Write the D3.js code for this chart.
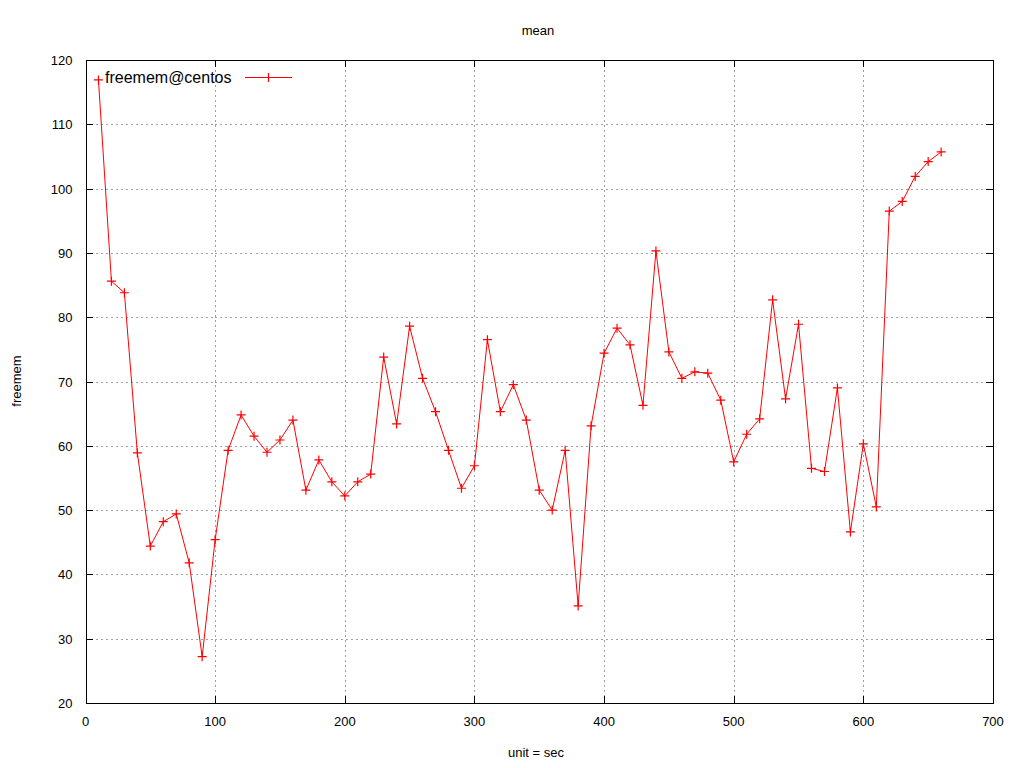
<!DOCTYPE html>
<html>
<head>
<meta charset="utf-8">
<script src="https://cdn.jsdelivr.net/npm/d3@7"></script>
<style>
  body { margin: 0; background: #fff; }
  svg { display: block; font-family: "Liberation Sans", Arial, sans-serif; }
</style>
</head>
<body>
<div id="chart"></div>
<script>
// sampled every 10 s
const times = [10, 20, 30, 40, 50, 60, 70, 80, 90, 100,
  110, 120, 130, 140, 150, 160, 170, 180, 190, 200,
  210, 220, 230, 240, 250, 260, 270, 280, 290, 300,
  310, 320, 330, 340, 350, 360, 370, 380, 390, 400,
  410, 420, 430, 440, 450, 460, 470, 480, 490, 500,
  510, 520, 530, 540, 550, 560, 570, 580, 590, 600,
  610, 620, 630, 640, 650, 660];
const freemem = [116.9, 85.6, 83.8, 58.9, 44.4, 48.2, 49.4, 41.8, 27.2, 45.4,
  59.3, 64.8, 61.5, 59.0, 60.9, 64.0, 53.1, 57.8, 54.4, 52.2,
  54.4, 55.6, 73.8, 63.4, 78.6, 70.5, 65.3, 59.3, 53.4, 56.9,
  76.5, 65.3, 69.5, 64.0, 53.1, 50.0, 59.3, 35.1, 63.1, 74.4,
  78.3, 75.7, 66.3, 90.3, 74.6, 70.5, 71.5, 71.3, 67.1, 57.5,
  61.8, 64.2, 82.7, 67.3, 78.9, 56.5, 56.0, 69.0, 46.6, 60.3,
  50.5, 96.5, 98.0, 101.9, 104.2, 105.7];
const xTicks = [0, 100, 200, 300, 400, 500, 600, 700];
const yTicks = [20, 30, 40, 50, 60, 70, 80, 90, 100, 110, 120];

const width = 1024, height = 768;
const margin = {top: 60, right: 31, bottom: 65, left: 85.5};

const svg = d3.select("#chart").append("svg")
  .attr("width", width)
  .attr("height", height);

const x = d3.scaleLinear().domain([0, 700]).range([margin.left, width - margin.right]);
const y = d3.scaleLinear().domain([20, 120]).range([height - margin.bottom, margin.top]);

const x0 = x.range()[0], x1 = x.range()[1];
const y0 = y.range()[0], y1 = y.range()[1];

// grid
const grid = svg.append("g").attr("stroke", "#a0a0a0").attr("stroke-dasharray", "2,3").attr("shape-rendering", "crispEdges");
grid.selectAll(".gx").data(xTicks.slice(1, -1)).join("line")
  .attr("x1", d => Math.round(x(d)) + 0.5).attr("x2", d => Math.round(x(d)) + 0.5)
  .attr("y1", y1).attr("y2", y0);
grid.selectAll(".gy").data(yTicks.slice(1, -1)).join("line")
  .attr("x1", x0).attr("x2", x1)
  .attr("y1", d => Math.round(y(d)) + 0.5).attr("y2", d => Math.round(y(d)) + 0.5);

// ticks (inward, mirrored)
const tl = 7;
const ticks = svg.append("g").attr("stroke", "#000").attr("shape-rendering", "crispEdges");
xTicks.forEach(d => {
  const px = Math.round(x(d)) + 0.5;
  ticks.append("line").attr("x1", px).attr("x2", px).attr("y1", y0).attr("y2", y0 - tl);
  ticks.append("line").attr("x1", px).attr("x2", px).attr("y1", y1).attr("y2", y1 + tl);
});
yTicks.forEach(d => {
  const py = Math.round(y(d)) + 0.5;
  ticks.append("line").attr("x1", x0).attr("x2", x0 + tl).attr("y1", py).attr("y2", py);
  ticks.append("line").attr("x1", x1).attr("x2", x1 - tl).attr("y1", py).attr("y2", py);
});

// frame
svg.append("rect")
  .attr("x", Math.round(x0) + 0.5).attr("y", Math.round(y1) + 0.5)
  .attr("width", Math.round(x1) - Math.round(x0)).attr("height", Math.round(y0) - Math.round(y1))
  .attr("fill", "none").attr("stroke", "#000").attr("shape-rendering", "crispEdges");

// tick labels
svg.append("g").selectAll("text").data(xTicks).join("text")
  .attr("x", d => x(d)).attr("y", y0 + 23)
  .attr("text-anchor", "middle").attr("font-size", 13)
  .text(d => d);
svg.append("g").selectAll("text").data(yTicks).join("text")
  .attr("x", x0 - 13).attr("y", d => y(d) + 5)
  .attr("text-anchor", "end").attr("font-size", 13)
  .text(d => d);

// titles
svg.append("text").attr("x", 538).attr("y", 35).attr("text-anchor", "middle").attr("font-size", 13).text("mean");
svg.append("text").attr("x", 536).attr("y", 757).attr("text-anchor", "middle").attr("font-size", 13).text("unit = sec");
svg.append("text").attr("transform", "translate(21,381) rotate(-90)").attr("text-anchor", "middle").attr("font-size", 13).text("freemem");

// series
const pts = times.map((t, i) => [t, freemem[i]]);
const line = d3.line().x(d => x(d[0])).y(d => y(d[1]));
svg.append("path").datum(pts)
  .attr("d", line).attr("fill", "none").attr("stroke", "#ff0000").attr("stroke-width", 1);

const cross = (sel, px, py) => {
  sel.append("path")
    .attr("d", `M${px - 4.5},${py}H${px + 4.5}M${px},${py - 4.5}V${py + 4.5}`)
    .attr("stroke", "#ff0000").attr("stroke-width", 1.2).attr("fill", "none");
};
const marks = svg.append("g");
pts.forEach(d => cross(marks, x(d[0]), y(d[1])));

// legend
svg.append("text").attr("x", 105).attr("y", 82.5).attr("font-size", 16).text("freemem@centos");
svg.append("line").attr("x1", 245).attr("x2", 292).attr("y1", 77.5).attr("y2", 77.5).attr("stroke", "#ff0000");
cross(svg, 268.5, 77.5);
</script>
</body>
</html>
